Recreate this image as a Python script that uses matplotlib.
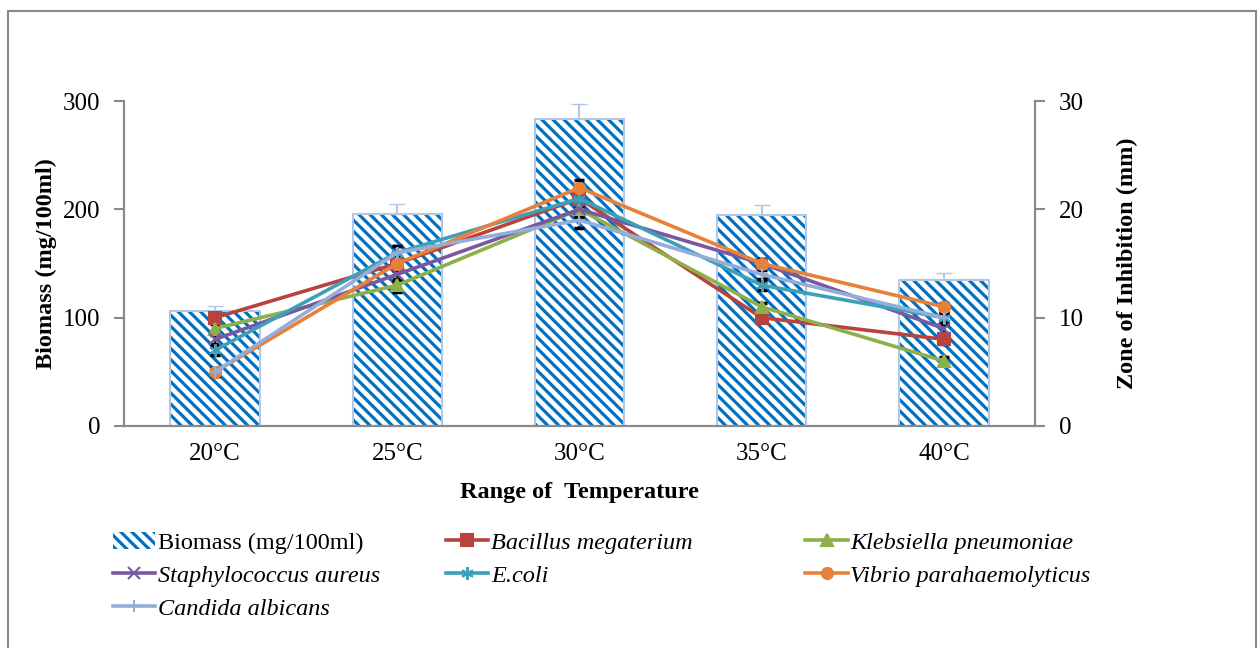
import numpy as np
import matplotlib.pyplot as plt
from matplotlib.patches import Rectangle

plt.rcParams['font.family'] = ['Liberation Serif', 'DejaVu Serif']
plt.rcParams['hatch.linewidth'] = 2.3

# Data
temps = ['20°C', '25°C', '30°C', '35°C', '40°C']
biomass = [106, 196, 283, 195, 135]
biomass_err = [5, 9, 14, 9, 6]

species = ['Bacillus megaterium', 'Klebsiella pneumoniae', 'Staphylococcus aureus',
           'E.coli', 'Vibrio parahaemolyticus', 'Candida albicans']
bacillus = [10, 15, 21, 10, 8]
klebsiella = [9, 13, 20, 11, 6]
staph = [8, 14, 20, 15, 9]
ecoli = [7, 16, 21, 13, 10]
vibrio = [5, 15, 22, 15, 11]
candida = [5, 16, 19, 14, 10]
zone_err = [0.4, 0.6, 0.7, 0.4, 0.4]

series = [bacillus, klebsiella, staph, ecoli, vibrio, candida]
colors = ['#B8433E', '#8DB04A', '#7A58A0', '#3E9FB8', '#E8803A', '#93AEDA']
markers = ['s', '^', 'x', (6, 2, 0), 'o', '+']

x = np.arange(len(temps))

fig = plt.figure(figsize=(12.57, 6.48), dpi=100)
ax = fig.add_axes([0.0986, 0.3426, 0.7248, 0.5015])
ax2 = ax.twinx()

# hatched bars, then light outline
bars = ax.bar(x, biomass, width=0.49, color='white', edgecolor='#0070C0',
              linewidth=0, hatch='\\\\\\', zorder=2)
ax.bar(x, biomass, width=0.49, color='none', edgecolor='#B4C7E7',
       linewidth=1.5, zorder=3)
ax.errorbar(x, biomass, yerr=[[0] * 5, biomass_err], fmt='none',
            ecolor='#B4C7E7', elinewidth=1.5, capsize=6, zorder=3)

line_handles = []
for vals, c, m, name in zip(series, colors, markers, species):
    ax2.errorbar(x, vals, yerr=zone_err, fmt='none', ecolor='black',
                 elinewidth=1.2, capsize=3.5, capthick=2.5, zorder=3)
    ms = 8 if m in ('s', 'o', '^') else 9
    h, = ax2.plot(x, vals, color=c, lw=2.6, marker=m, markersize=ms,
                  markeredgewidth=1.5, zorder=4, label=name)
    line_handles.append(h)

ax.set_xlim(-0.5, 4.5)
ax.set_ylim(0, 300)
ax.set_yticks([0, 100, 200, 300])
ax2.set_ylim(0, 30)
ax2.set_yticks([0, 10, 20, 30])
ax.set_xticks(x)
ax.set_xticklabels(temps)

for a in (ax, ax2):
    a.spines['top'].set_visible(False)
    for s in ('left', 'right', 'bottom'):
        a.spines[s].set_color('#898989')
        a.spines[s].set_linewidth(1.5)
    a.tick_params(axis='y', colors='#898989', labelcolor='black', labelsize=18,
                  length=7, width=1.5, pad=10)
ax.tick_params(axis='x', length=0, labelsize=18, pad=12.5)

ax.set_ylabel('Biomass (mg/100ml)', fontsize=17.5, fontweight='bold', labelpad=4)
ax2.set_ylabel('Zone of Inhibition (mm)', fontsize=17.5, fontweight='bold', labelpad=24)
ax.set_xlabel('Range of  Temperature', fontsize=17.5, fontweight='bold', labelpad=12)

# legend in three columns, row-wise like the original
cols = [[bars, line_handles[2], line_handles[5]],
        [line_handles[0], line_handles[3]],
        [line_handles[1], line_handles[4]]]
labels = [['Biomass (mg/100ml)', species[2], species[5]],
          [species[0], species[3]],
          [species[1], species[4]]]
xs = [0.080, 0.345, 0.631]
for hs, ls, xpos in zip(cols, labels, xs):
    leg = fig.legend(hs, ls, loc='upper left', bbox_to_anchor=(xpos, 0.198),
                     frameon=False, fontsize=17.5, handlelength=1.75,
                     handletextpad=0.1, labelspacing=0.45, borderpad=0)
    for t in leg.get_texts():
        if not t.get_text().startswith('Biomass'):
            t.set_style('italic')

fig.patches.append(Rectangle((0.0064, -0.02), 0.9928, 1.003, transform=fig.transFigure,
                             fill=False, edgecolor='#898989', linewidth=1.5))

fig.savefig('out.png', dpi=100)
